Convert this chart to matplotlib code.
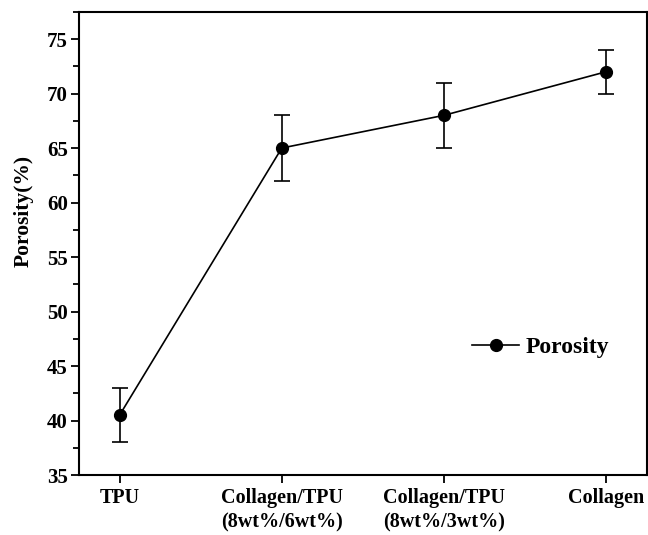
import matplotlib
matplotlib.use("Agg")
import matplotlib.pyplot as plt
from matplotlib.ticker import MultipleLocator
from matplotlib.lines import Line2D

# ── Data ──────────────────────────────────────────────────────────
samples = ["TPU", "Collagen/TPU\n(8wt%/6wt%)", "Collagen/TPU\n(8wt%/3wt%)", "Collagen"]
porosity = [40.5, 65, 68, 72]
porosity_err = [2.5, 3, 3, 2]

plt.rcParams['font.family'] = ['Liberation Serif', 'DejaVu Serif']
plt.rcParams['font.weight'] = 'bold'

fig = plt.figure(figsize=(6.48, 5.35), dpi=100)
ax = fig.add_axes([0.122, 0.112, 0.876, 0.866])

x = list(range(len(samples)))
ax.errorbar(x, porosity, yerr=porosity_err, color='black', marker='o',
            markersize=8.5, linewidth=1.2, elinewidth=1.2, capsize=6,
            capthick=1.2)

ax.set_xlim(-0.25, 3.25)
ax.set_ylim(35, 77.5)
ax.set_xticks(x)
ax.set_xticklabels(samples, fontsize=14.5, fontweight='bold', linespacing=1.35)
ax.yaxis.set_major_locator(MultipleLocator(5))
ax.yaxis.set_minor_locator(MultipleLocator(2.5))
ax.tick_params(axis='y', which='major', labelsize=15, length=6, width=1.3, pad=2)
ax.tick_params(axis='y', which='minor', length=4, width=1.3)
ax.tick_params(axis='x', length=6, width=1.3, pad=3)
for lbl in ax.get_yticklabels():
    lbl.set_fontweight('bold')
for s in ax.spines.values():
    s.set_linewidth(1.5)

ax.set_ylabel("Porosity(%)", fontsize=15.5, fontweight='bold')
ax.yaxis.set_label_coords(-0.08, 0.57)

handle = Line2D([], [], color='black', marker='o', markersize=8.5, linewidth=1.2)
ax.legend([handle], ["Porosity"], loc='center left', bbox_to_anchor=(0.655, 0.276),
          frameon=False, prop={'size': 17, 'weight': 'bold'},
          handlelength=2.0, handletextpad=0.25)

fig.savefig("out.png", dpi=100)
